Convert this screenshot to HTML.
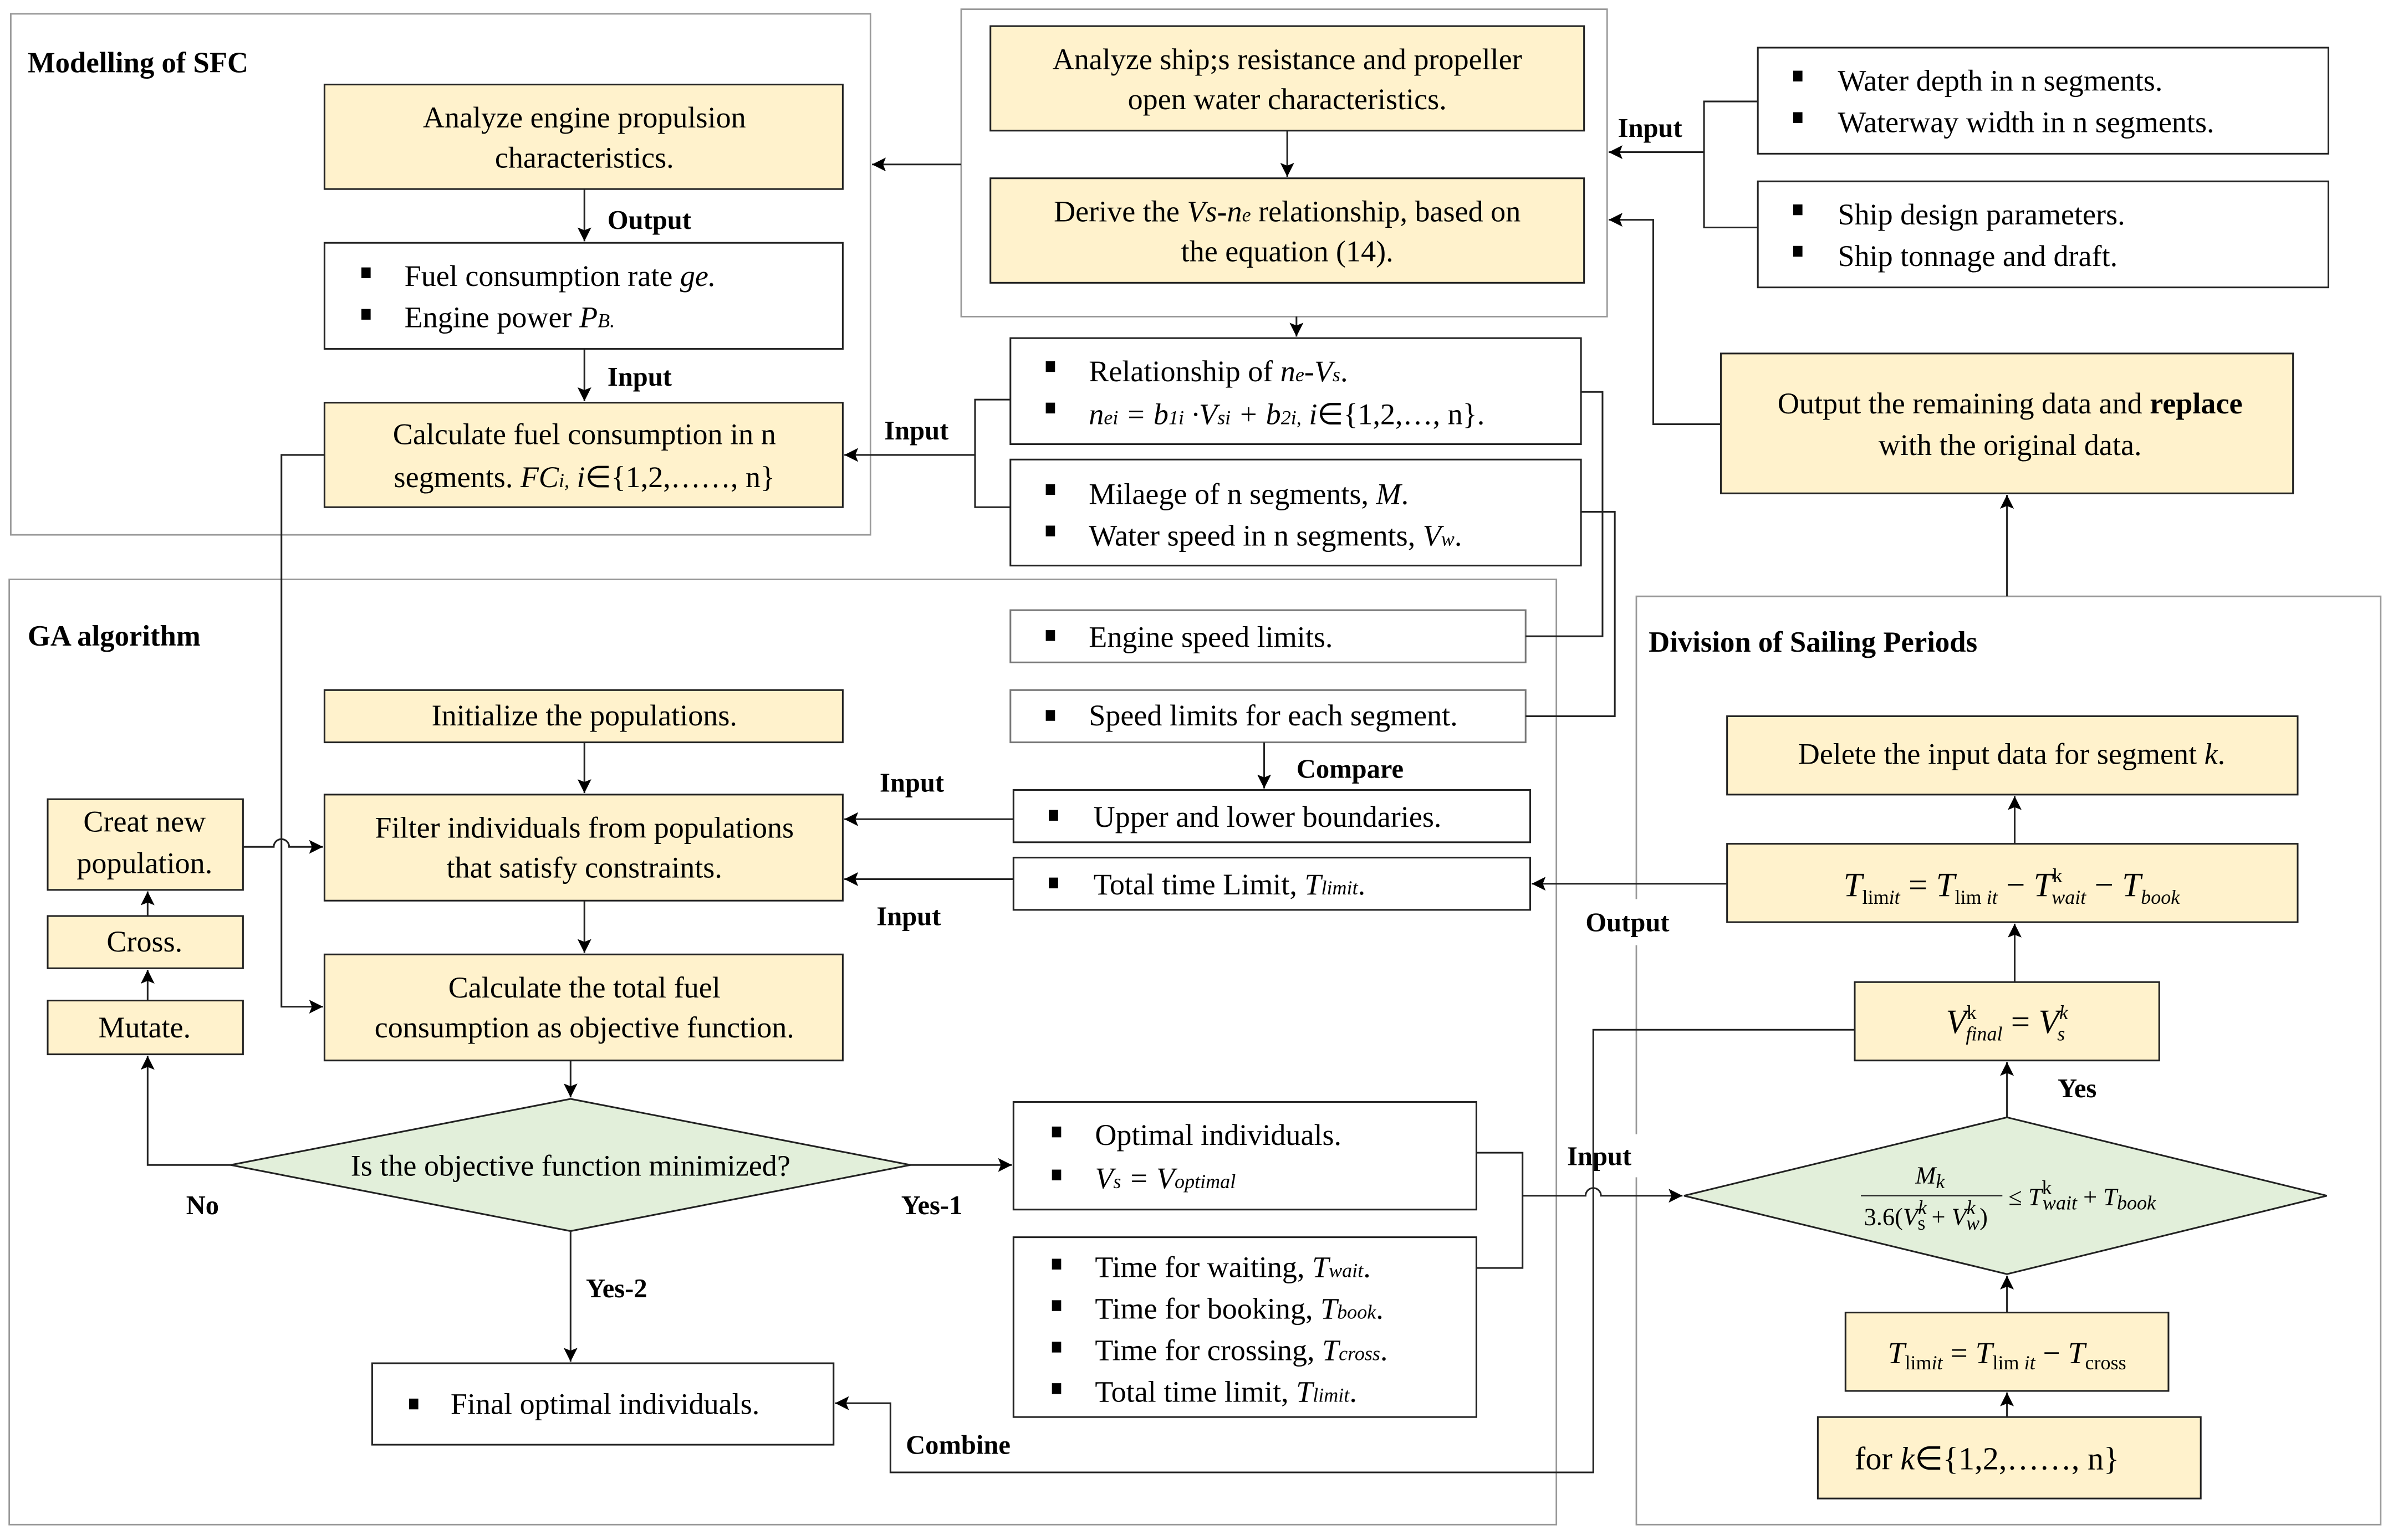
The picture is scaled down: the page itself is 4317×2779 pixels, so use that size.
<!DOCTYPE html>
<html><head><meta charset="utf-8"><style>
html,body{margin:0;padding:0;background:#fff;}
svg{display:block;}
text{font-family:"Liberation Serif",serif;fill:#000;}
.t{font-size:19.5px;}
.b{font-size:17.5px;font-weight:bold;}
.h{font-size:19px;font-weight:bold;}
.y{fill:#FFF2CC;stroke:#222;stroke-width:1.1;}
.w{fill:#fff;stroke:#222;stroke-width:1.1;}
.g{fill:#E2EFDA;stroke:#222;stroke-width:1.1;}
.p{fill:none;stroke:#999;stroke-width:1;}
.l{fill:none;stroke:#222;stroke-width:1.1;}
.s{font-size:13px;}
</style></head><body>
<svg width="4317" height="2779" viewBox="0 0 1556 1002" preserveAspectRatio="none" xmlns="http://www.w3.org/2000/svg">
<defs><marker id="a" viewBox="0 0 10 10" refX="10" refY="5" markerWidth="9" markerHeight="9" markerUnits="userSpaceOnUse" orient="auto"><path d="M0,0 L10,5 L0,10 L2,5 z" fill="#000"/></marker></defs>
<rect width="1556" height="1002" fill="#fff"/>
<!-- panels -->
<rect class="p" x="7" y="9" width="559" height="339"/>
<rect class="p" x="625" y="6" width="420" height="200"/>
<rect class="p" x="6" y="377" width="1006" height="615"/>
<rect class="p" x="1064" y="388" width="484" height="604"/>
<rect x="1058" y="585" width="12" height="30" fill="#fff"/>
<rect x="1058" y="738" width="12" height="28" fill="#fff"/>
<text class="h" x="18" y="47">Modelling of SFC</text>
<text class="h" x="18" y="420">GA algorithm</text>
<text class="h" x="1072" y="424">Division of Sailing Periods</text>

<!-- SFC -->
<rect class="y" x="211" y="55" width="337" height="68"/>
<text class="t" x="380" y="83" text-anchor="middle">Analyze  engine propulsion</text>
<text class="t" x="380" y="109" text-anchor="middle">characteristics.</text>
<path class="l" d="M380,123 V157" marker-end="url(#a)"/>
<text class="b" x="395" y="149">Output</text>
<rect class="w" x="211" y="158" width="337" height="69"/>
<rect x="235" y="174" width="6" height="7"/><rect x="235" y="201" width="6" height="7"/>
<text class="t" x="263" y="186">Fuel consumption rate <tspan font-style="italic">ge.</tspan></text>
<text class="t" x="263" y="213">Engine power <tspan font-style="italic">P<tspan class="s">B.</tspan></tspan></text>
<path class="l" d="M380,227 V261" marker-end="url(#a)"/>
<text class="b" x="395" y="251">Input</text>
<rect class="y" x="211" y="262" width="337" height="68"/>
<text class="t" x="380" y="289" text-anchor="middle">Calculate fuel consumption in n</text>
<text class="t" x="380" y="317" text-anchor="middle">segments. <tspan font-style="italic">FC<tspan class="s">i,</tspan> i</tspan>∈{1,2,……,  n}</text>

<!-- top center -->
<rect class="y" x="644" y="17" width="386" height="68"/>
<text class="t" x="837" y="45" text-anchor="middle">Analyze  ship;s resistance and propeller</text>
<text class="t" x="837" y="71" text-anchor="middle">open water characteristics.</text>
<path class="l" d="M837,85 V115" marker-end="url(#a)"/>
<rect class="y" x="644" y="116" width="386" height="68"/>
<text class="t" x="837" y="144" text-anchor="middle">Derive the <tspan font-style="italic">Vs-n<tspan class="s">e</tspan></tspan>  relationship, based on</text>
<text class="t" x="837" y="170" text-anchor="middle">the equation (14).</text>
<path class="l" d="M625,107 H567" marker-end="url(#a)"/>

<!-- right top -->
<rect class="w" x="1143" y="31" width="371" height="69"/>
<rect x="1166" y="46" width="6" height="7"/><rect x="1166" y="73" width="6" height="7"/>
<text class="t" x="1195" y="59">Water depth in n segments.</text>
<text class="t" x="1195" y="86">Waterway width in n segments.</text>
<rect class="w" x="1143" y="118" width="371" height="69"/>
<rect x="1166" y="133" width="6" height="7"/><rect x="1166" y="160" width="6" height="7"/>
<text class="t" x="1195" y="146">Ship design parameters.</text>
<text class="t" x="1195" y="173">Ship tonnage and draft.</text>
<path class="l" d="M1143,66 H1108 V148 H1143"/>
<path class="l" d="M1108,99 H1046" marker-end="url(#a)"/>
<text class="b" x="1052" y="89">Input</text>
<rect class="y" x="1119" y="230" width="372" height="91"/>
<text class="t" x="1307" y="269" text-anchor="middle">Output the remaining data and <tspan font-weight="bold">replace</tspan></text>
<text class="t" x="1307" y="296" text-anchor="middle">with the original data.</text>
<path class="l" d="M1119,276 H1075 V143 H1046" marker-end="url(#a)"/>
<path class="l" d="M1305,388 V322" marker-end="url(#a)"/>

<!-- middle boxes -->
<path class="l" d="M843,206 V219" marker-end="url(#a)"/>
<rect class="w" x="657" y="220" width="371" height="69"/>
<rect x="680" y="235" width="6" height="7"/><rect x="680" y="262" width="6" height="7"/>
<text class="t" x="708" y="248">Relationship of <tspan font-style="italic">n<tspan class="s">e</tspan>-V<tspan class="s">s</tspan></tspan>.</text>
<text class="t" x="708" y="276"><tspan font-style="italic">n<tspan class="s">ei</tspan> = b<tspan class="s">1i</tspan> ·V<tspan class="s">si</tspan> + b<tspan class="s">2i,</tspan> i</tspan>∈{1,2,…,  n}.</text>
<rect class="w" x="657" y="299" width="371" height="69"/>
<rect x="680" y="315" width="6" height="7"/><rect x="680" y="342" width="6" height="7"/>
<text class="t" x="708" y="328">Milaege of n segments, <tspan font-style="italic">M</tspan>.</text>
<text class="t" x="708" y="355">Water speed in n segments, <tspan font-style="italic">V<tspan class="s">w</tspan></tspan>.</text>
<path class="l" d="M657,260 H634 V330 H657"/>
<path class="l" d="M634,296 H549" marker-end="url(#a)"/>
<text class="b" x="575" y="286">Input</text>
<rect class="w" x="657" y="397" width="335" height="34" style="stroke:#777"/>
<rect x="680" y="410" width="6" height="7"/>
<text class="t" x="708" y="421">Engine speed limits.</text>
<rect class="w" x="657" y="449" width="335" height="34" style="stroke:#777"/>
<rect x="680" y="462" width="6" height="7"/>
<text class="t" x="708" y="472">Speed limits for each segment.</text>
<path class="l" d="M1028,255 H1042 V414 H992"/>
<path class="l" d="M1028,333 H1050 V466 H992"/>
<path class="l" d="M822,483 V513" marker-end="url(#a)"/>
<text class="b" x="843" y="506">Compare</text>
<rect class="w" x="659" y="514" width="336" height="34"/>
<rect x="682" y="527" width="6" height="7"/>
<text class="t" x="711" y="538">Upper and lower boundaries.</text>
<rect class="w" x="659" y="558" width="336" height="34"/>
<rect x="682" y="571" width="6" height="7"/>
<text class="t" x="711" y="582">Total time Limit, <tspan font-style="italic">T<tspan class="s">limit</tspan></tspan>.</text>
<path class="l" d="M659,533 H549" marker-end="url(#a)"/>
<path class="l" d="M659,572 H549" marker-end="url(#a)"/>
<text class="b" x="572" y="515">Input</text>
<text class="b" x="570" y="602">Input</text>

<!-- GA -->
<rect class="y" x="211" y="449" width="337" height="34"/>
<text class="t" x="380" y="472" text-anchor="middle">Initialize the populations.</text>
<path class="l" d="M380,483 V516" marker-end="url(#a)"/>
<rect class="y" x="211" y="517" width="337" height="69"/>
<text class="t" x="380" y="545" text-anchor="middle">Filter individuals from populations</text>
<text class="t" x="380" y="571" text-anchor="middle">that satisfy constraints.</text>
<path class="l" d="M380,586 V620" marker-end="url(#a)"/>
<rect class="y" x="211" y="621" width="337" height="69"/>
<text class="t" x="380" y="649" text-anchor="middle">Calculate the total fuel</text>
<text class="t" x="380" y="675" text-anchor="middle">consumption as objective function.</text>
<path class="l" d="M211,296 H183 V655 H210" marker-end="url(#a)"/>
<path class="l" d="M371,690 V714" marker-end="url(#a)"/>
<polygon class="g" points="371,715 592,758 371,801 150,758"/>
<text class="t" x="371" y="765" text-anchor="middle">Is the objective function minimized?</text>
<path class="l" d="M150,758 H96 V687" marker-end="url(#a)"/>
<text class="b" x="121" y="790">No</text>
<rect class="y" x="31" y="651" width="127" height="35"/>
<text class="t" x="94" y="675" text-anchor="middle">Mutate.</text>
<path class="l" d="M96,651 V631" marker-end="url(#a)"/>
<rect class="y" x="31" y="596" width="127" height="34"/>
<text class="t" x="94" y="619" text-anchor="middle">Cross.</text>
<path class="l" d="M96,596 V580" marker-end="url(#a)"/>
<rect class="y" x="31" y="520" width="127" height="59"/>
<text class="t" x="94" y="541" text-anchor="middle">Creat new</text>
<text class="t" x="94" y="568" text-anchor="middle">population.</text>
<path class="l" d="M158,551 H178 A5,5 0 0 1 188,551 H210" marker-end="url(#a)"/>
<path class="l" d="M592,758 H658" marker-end="url(#a)"/>
<text class="b" x="586" y="790">Yes-1</text>
<path class="l" d="M371,801 V886" marker-end="url(#a)"/>
<text class="b" x="381" y="844">Yes-2</text>
<rect class="w" x="242" y="887" width="300" height="53"/>
<rect x="266" y="910" width="6" height="7"/>
<text class="t" x="293" y="920">Final optimal individuals.</text>
<rect class="w" x="659" y="717" width="301" height="70"/>
<rect x="684" y="733" width="6" height="7"/><rect x="684" y="761" width="6" height="7"/>
<text class="t" x="712" y="745">Optimal individuals.</text>
<text class="t" x="712" y="773" font-style="italic">V<tspan class="s">s</tspan> = V<tspan class="s">optimal</tspan></text>
<rect class="w" x="659" y="805" width="301" height="117"/>
<rect x="684" y="819" width="6" height="7"/><rect x="684" y="846" width="6" height="7"/><rect x="684" y="873" width="6" height="7"/><rect x="684" y="900" width="6" height="7"/>
<text class="t" x="712" y="831">Time for waiting, <tspan font-style="italic">T<tspan class="s">wait</tspan></tspan>.</text>
<text class="t" x="712" y="858">Time for booking, <tspan font-style="italic">T<tspan class="s">book</tspan></tspan>.</text>
<text class="t" x="712" y="885">Time for crossing, <tspan font-style="italic">T<tspan class="s">cross</tspan></tspan>.</text>
<text class="t" x="712" y="912">Total time limit, <tspan font-style="italic">T<tspan class="s">limit</tspan></tspan>.</text>
<path class="l" d="M960,750 H990 V825 H960"/>
<path class="l" d="M990,778 H1031 A5,5 0 0 1 1041,778 H1094" marker-end="url(#a)"/>
<text class="b" x="1019" y="758">Input</text>
<path class="l" d="M1206,670 H1036 V958 H579 V913 H543" marker-end="url(#a)"/>
<text class="b" x="589" y="946">Combine</text>

<!-- Division -->
<rect class="y" x="1123" y="466" width="371" height="51"/>
<text class="t" x="1308" y="497" text-anchor="middle">Delete the input data for segment <tspan font-style="italic">k</tspan>.</text>
<path class="l" d="M1310,549 V518" marker-end="url(#a)"/>
<rect class="y" x="1123" y="549" width="371" height="51"/>
<text x="1308" y="583" text-anchor="middle" style="font-size:22px"><tspan font-style="italic">T</tspan><tspan class="s" dy="5">lim<tspan font-style="italic">it</tspan></tspan><tspan dy="-5"> = </tspan><tspan font-style="italic">T</tspan><tspan class="s" dy="5">lim <tspan font-style="italic">it</tspan></tspan><tspan dy="-5"> − </tspan><tspan font-style="italic">T</tspan><tspan class="s" dy="-9">k</tspan><tspan class="s" dx="-7" dy="14" font-style="italic">wait</tspan><tspan dy="-5"> − </tspan><tspan font-style="italic">T</tspan><tspan class="s" dy="5" font-style="italic">book</tspan></text>
<path class="l" d="M1123,575 H996" marker-end="url(#a)"/>
<text class="b" x="1031" y="606">Output</text>
<path class="l" d="M1310,639 V601" marker-end="url(#a)"/>
<rect class="y" x="1206" y="639" width="198" height="51"/>
<text x="1305" y="672" text-anchor="middle" style="font-size:22px"><tspan font-style="italic">V</tspan><tspan class="s" dy="-9">k</tspan><tspan class="s" dx="-7" dy="14" font-style="italic">final</tspan><tspan dy="-5"> = </tspan><tspan font-style="italic">V</tspan><tspan class="s" dy="-9" font-style="italic">k</tspan><tspan class="s" dx="-7" dy="14" font-style="italic">s</tspan></text>
<path class="l" d="M1305,727 V691" marker-end="url(#a)"/>
<text class="b" x="1338" y="714">Yes</text>
<polygon class="g" points="1305,727 1513,778 1305,829 1095,778"/>
<text x="1255" y="770" text-anchor="middle" style="font-size:16px;font-style:italic">M<tspan class="s" dy="3">k</tspan></text>
<line x1="1210" y1="778" x2="1302" y2="778" stroke="#222" stroke-width="0.8"/>
<text x="1212" y="797" style="font-size:16px">3.6(<tspan font-style="italic">V</tspan><tspan class="s" dy="-7" font-style="italic">k</tspan><tspan class="s" dx="-6" dy="10">s</tspan><tspan dy="-3"> + </tspan><tspan font-style="italic">V</tspan><tspan class="s" dy="-7" font-style="italic">k</tspan><tspan class="s" dx="-6" dy="10" font-style="italic">w</tspan><tspan dy="-3">)</tspan></text>
<text x="1306" y="784" style="font-size:16px">≤ <tspan font-style="italic">T</tspan><tspan class="s" dy="-7">k</tspan><tspan class="s" dx="-6" dy="10" font-style="italic">wait</tspan><tspan dy="-3"> + </tspan><tspan font-style="italic">T</tspan><tspan class="s" dy="3" font-style="italic">book</tspan></text>
<path class="l" d="M1305,854 V830" marker-end="url(#a)"/>
<rect class="y" x="1200" y="854" width="210" height="51"/>
<text x="1305" y="887" text-anchor="middle" style="font-size:20px"><tspan font-style="italic">T</tspan><tspan class="s" dy="4">lim<tspan font-style="italic">it</tspan></tspan><tspan dy="-4"> = </tspan><tspan font-style="italic">T</tspan><tspan class="s" dy="4">lim <tspan font-style="italic">it</tspan></tspan><tspan dy="-4"> − </tspan><tspan font-style="italic">T</tspan><tspan class="s" dy="4">cross</tspan></text>
<path class="l" d="M1305,922 V906" marker-end="url(#a)"/>
<rect class="y" x="1182" y="922" width="249" height="53"/>
<text class="t" x="1292" y="956" text-anchor="middle" style="font-size:21px">for <tspan font-style="italic">k</tspan>∈{1,2,……,  n}</text>
</svg>
</body></html>
